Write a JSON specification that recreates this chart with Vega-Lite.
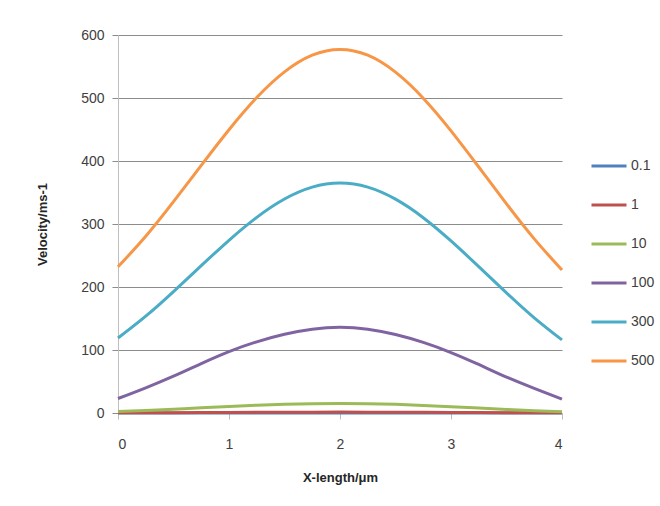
{
  "$schema": "https://vega.github.io/schema/vega-lite/v6.json",
  "autosize": {"type": "none"},
  "width": 444,
  "height": 378,
  "padding": {"left": 118, "top": 35, "right": 98, "bottom": 93},
  "background": "white",
  "config": {
    "view": {"stroke": null},
    "font": "Liberation Sans Narrow, Liberation Sans, sans-serif",
    "axis": {"labelFont": "Liberation Sans Narrow, Liberation Sans", "titleFont": "Liberation Sans, sans-serif", "labelColor": "#404040", "titleColor": "#262626", "labelFontSize": 14, "titleFontSize": 13, "titleFontWeight": "bold"},
    "legend": {"labelFont": "Liberation Sans Narrow, Liberation Sans", "labelFontSize": 14, "labelColor": "#404040"}
  },
  "data": {"values": [
    {"x": 0, "s": "0.1", "v": 0.02}, {"x": 0.25, "s": "0.1", "v": 0.03}, {"x": 0.5, "s": "0.1", "v": 0.05}, {"x": 0.75, "s": "0.1", "v": 0.07}, {"x": 1, "s": "0.1", "v": 0.09}, {"x": 1.25, "s": "0.1", "v": 0.11}, {"x": 1.5, "s": "0.1", "v": 0.13}, {"x": 1.75, "s": "0.1", "v": 0.14}, {"x": 2, "s": "0.1", "v": 0.14}, {"x": 2.25, "s": "0.1", "v": 0.14}, {"x": 2.5, "s": "0.1", "v": 0.13}, {"x": 2.75, "s": "0.1", "v": 0.11}, {"x": 3, "s": "0.1", "v": 0.09}, {"x": 3.25, "s": "0.1", "v": 0.07}, {"x": 3.5, "s": "0.1", "v": 0.05}, {"x": 3.75, "s": "0.1", "v": 0.03}, {"x": 4, "s": "0.1", "v": 0.02},
    {"x": 0, "s": "1", "v": 0.2}, {"x": 0.25, "s": "1", "v": 0.37}, {"x": 0.5, "s": "1", "v": 0.56}, {"x": 0.75, "s": "1", "v": 0.76}, {"x": 1, "s": "1", "v": 0.96}, {"x": 1.25, "s": "1", "v": 1.13}, {"x": 1.5, "s": "1", "v": 1.27}, {"x": 1.75, "s": "1", "v": 1.36}, {"x": 2, "s": "1", "v": 1.39}, {"x": 2.25, "s": "1", "v": 1.36}, {"x": 2.5, "s": "1", "v": 1.27}, {"x": 2.75, "s": "1", "v": 1.13}, {"x": 3, "s": "1", "v": 0.96}, {"x": 3.25, "s": "1", "v": 0.76}, {"x": 3.5, "s": "1", "v": 0.56}, {"x": 3.75, "s": "1", "v": 0.37}, {"x": 4, "s": "1", "v": 0.2},
    {"x": 0, "s": "10", "v": 2.2}, {"x": 0.25, "s": "10", "v": 4.0}, {"x": 0.5, "s": "10", "v": 6.1}, {"x": 0.75, "s": "10", "v": 8.3}, {"x": 1, "s": "10", "v": 10.4}, {"x": 1.25, "s": "10", "v": 12.3}, {"x": 1.5, "s": "10", "v": 13.8}, {"x": 1.75, "s": "10", "v": 14.7}, {"x": 2, "s": "10", "v": 15.0}, {"x": 2.25, "s": "10", "v": 14.7}, {"x": 2.5, "s": "10", "v": 13.7}, {"x": 2.75, "s": "10", "v": 12.1}, {"x": 3, "s": "10", "v": 10.1}, {"x": 3.25, "s": "10", "v": 7.9}, {"x": 3.5, "s": "10", "v": 5.7}, {"x": 3.75, "s": "10", "v": 3.6}, {"x": 4, "s": "10", "v": 1.8},
    {"x": 0, "s": "100", "v": 23}, {"x": 0.25, "s": "100", "v": 40}, {"x": 0.5, "s": "100", "v": 58.5}, {"x": 0.75, "s": "100", "v": 78.5}, {"x": 1, "s": "100", "v": 97.5}, {"x": 1.25, "s": "100", "v": 113}, {"x": 1.5, "s": "100", "v": 125}, {"x": 1.75, "s": "100", "v": 133}, {"x": 2, "s": "100", "v": 136}, {"x": 2.25, "s": "100", "v": 133}, {"x": 2.5, "s": "100", "v": 124.5}, {"x": 2.75, "s": "100", "v": 112}, {"x": 3, "s": "100", "v": 96}, {"x": 3.25, "s": "100", "v": 77}, {"x": 3.5, "s": "100", "v": 57}, {"x": 3.75, "s": "100", "v": 39}, {"x": 4, "s": "100", "v": 22},
    {"x": 0, "s": "300", "v": 119}, {"x": 0.25, "s": "300", "v": 153.7}, {"x": 0.5, "s": "300", "v": 192.8}, {"x": 0.75, "s": "300", "v": 233.9}, {"x": 1, "s": "300", "v": 274.2}, {"x": 1.25, "s": "300", "v": 310.6}, {"x": 1.5, "s": "300", "v": 339.7}, {"x": 1.75, "s": "300", "v": 358.6}, {"x": 2, "s": "300", "v": 365}, {"x": 2.25, "s": "300", "v": 358.5}, {"x": 2.5, "s": "300", "v": 339.4}, {"x": 2.75, "s": "300", "v": 310}, {"x": 3, "s": "300", "v": 273.1}, {"x": 3.25, "s": "300", "v": 232.3}, {"x": 3.5, "s": "300", "v": 190.7}, {"x": 3.75, "s": "300", "v": 151.1}, {"x": 4, "s": "300", "v": 116},
    {"x": 0, "s": "500", "v": 232}, {"x": 0.25, "s": "500", "v": 280.6}, {"x": 0.5, "s": "500", "v": 335.5}, {"x": 0.75, "s": "500", "v": 393.1}, {"x": 1, "s": "500", "v": 449.7}, {"x": 1.25, "s": "500", "v": 500.8}, {"x": 1.5, "s": "500", "v": 541.5}, {"x": 1.75, "s": "500", "v": 568}, {"x": 2, "s": "500", "v": 577}, {"x": 2.25, "s": "500", "v": 567.9}, {"x": 2.5, "s": "500", "v": 541}, {"x": 2.75, "s": "500", "v": 499.7}, {"x": 3, "s": "500", "v": 447.9}, {"x": 3.25, "s": "500", "v": 390.5}, {"x": 3.5, "s": "500", "v": 332}, {"x": 3.75, "s": "500", "v": 276.4}, {"x": 4, "s": "500", "v": 227}
  ]},
  "mark": {"type": "line", "strokeWidth": 3, "interpolate": "natural"},
  "encoding": {
    "x": {"field": "x", "type": "quantitative", "scale": {"domain": [0, 4], "nice": false},
      "axis": {"values": [0, 1, 2, 3, 4], "title": "X-length/μm", "grid": false, "domainColor": "#bfbfbf", "tickColor": "#bfbfbf", "tickSize": 6, "labelPadding": 18, "titlePadding": 20}},
    "y": {"field": "v", "type": "quantitative", "scale": {"domain": [0, 600], "nice": false},
      "axis": {"values": [0, 100, 200, 300, 400, 500, 600], "title": "Velocity/ms-1", "grid": true, "gridColor": "#8c8c8c", "domainColor": "#bfbfbf", "tickColor": "#8c8c8c", "tickSize": 6, "labelPadding": 8, "titlePadding": 31}},
    "color": {"field": "s", "type": "nominal", "sort": ["0.1", "1", "10", "100", "300", "500"],
      "scale": {"domain": ["0.1", "1", "10", "100", "300", "500"], "range": ["#4F81BD", "#C0504D", "#9BBB59", "#8064A2", "#4BACC6", "#F79646"]},
      "legend": {"title": null, "orient": "none", "legendX": 472, "legendY": 112, "symbolType": "stroke", "symbolSize": 1225, "symbolStrokeWidth": 3, "labelOffset": 3, "rowPadding": 13, "padding": 0}}
  }
}
